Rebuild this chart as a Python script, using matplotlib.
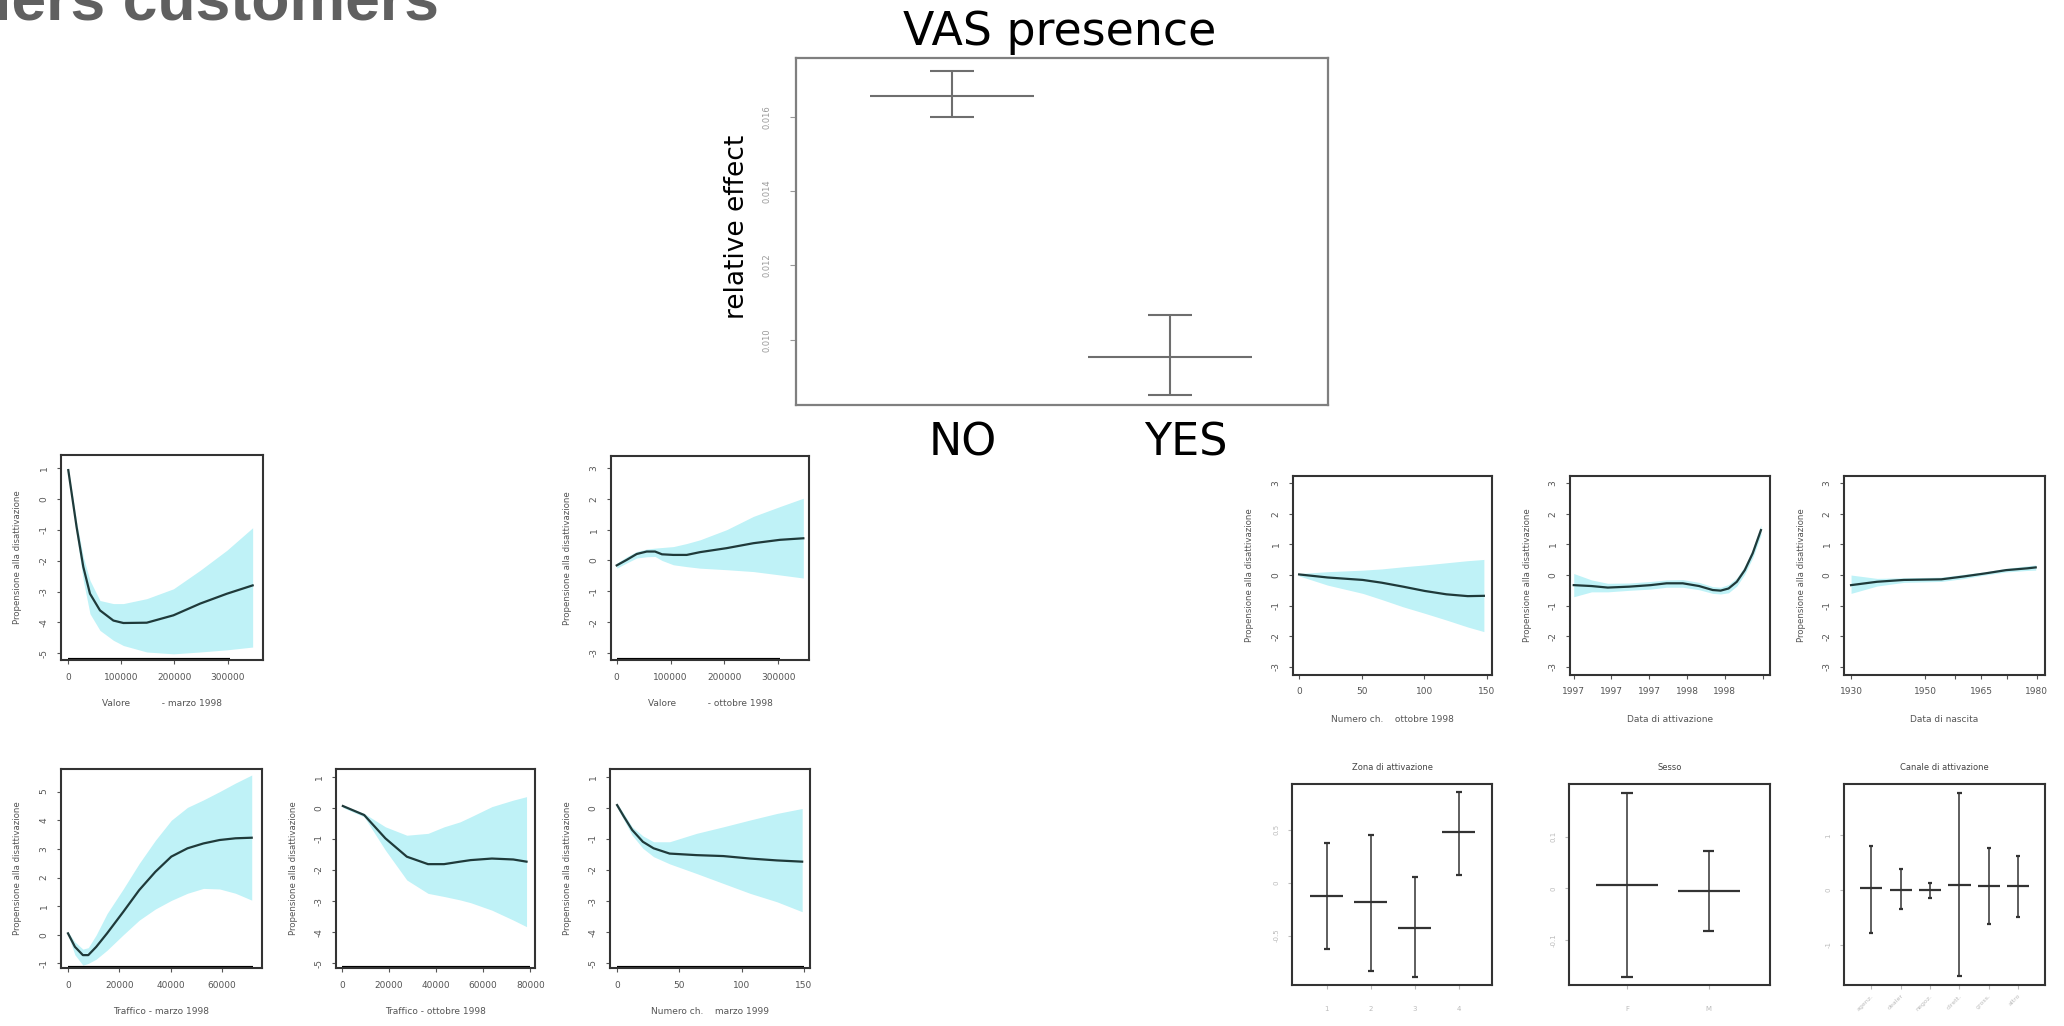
import matplotlib
matplotlib.use("Agg")
import matplotlib.pyplot as plt
import matplotlib.transforms as mtransforms

W, H = 2064, 1026

# --- VAS presence (relative effect, +/- 2 s.e.) ---
vas_levels = ["NO", "YES"]
vas_mean = [0.016565, 0.009524]
vas_lo = [0.016000, 0.008503]
vas_hi = [0.017220, 0.010672]
vas_yticks = [0.010, 0.012, 0.014, 0.016]

# --- smooth terms (fit, lower band, upper band) ---
valmar_x = [0, 15700, 28300, 40900, 59700, 84900, 103800, 147800, 198100, 248400, 298700, 347200]
valmar_fit = [0.94, -0.91, -2.20, -3.07, -3.61, -3.94, -4.02, -4.01, -3.77, -3.39, -3.07, -2.80]
valmar_hi = [0.99, -0.74, -1.88, -2.64, -3.29, -3.39, -3.39, -3.23, -2.91, -2.31, -1.66, -0.93]
valmar_lo = [0.88, -1.18, -2.64, -3.72, -4.26, -4.58, -4.75, -4.96, -5.02, -4.96, -4.89, -4.80]

valott_x = [0, 18600, 37100, 55700, 71100, 84000, 105100, 129900, 154600, 204100, 253600, 303000, 346300]
valott_fit = [-0.16, 0.02, 0.21, 0.29, 0.29, 0.20, 0.18, 0.18, 0.27, 0.40, 0.56, 0.67, 0.72]
valott_hi = [-0.09, 0.12, 0.29, 0.37, 0.40, 0.42, 0.45, 0.55, 0.67, 1.00, 1.43, 1.75, 2.02]
valott_lo = [-0.25, -0.08, 0.08, 0.12, 0.13, 0.00, -0.14, -0.20, -0.25, -0.30, -0.36, -0.47, -0.57]

trafmar_x = [0, 2700, 5800, 7900, 11000, 15200, 21500, 27700, 34000, 40200, 46500, 52700, 59000, 65200, 71500]
trafmar_fit = [0.05, -0.42, -0.71, -0.71, -0.42, 0.05, 0.80, 1.56, 2.20, 2.73, 3.02, 3.19, 3.31, 3.37, 3.39]
trafmar_hi = [0.10, -0.25, -0.50, -0.45, 0.00, 0.74, 1.60, 2.49, 3.30, 4.00, 4.45, 4.71, 5.00, 5.30, 5.58]
trafmar_lo = [0.00, -0.70, -1.06, -1.00, -0.85, -0.54, 0.00, 0.51, 0.90, 1.20, 1.45, 1.62, 1.60, 1.45, 1.21]

trafott_x = [450, 9500, 18500, 27600, 36600, 43400, 50200, 54700, 63700, 72800, 78400]
trafott_fit = [0.06, -0.23, -0.98, -1.57, -1.81, -1.81, -1.73, -1.68, -1.63, -1.66, -1.73]
trafott_hi = [0.09, -0.18, -0.61, -0.88, -0.82, -0.61, -0.45, -0.29, 0.04, 0.25, 0.36]
trafott_lo = [0.01, -0.29, -1.36, -2.32, -2.75, -2.85, -2.96, -3.05, -3.29, -3.61, -3.82]

nummar_x = [0, 5.6, 12.1, 20.7, 29.3, 42.2, 63.8, 85.3, 106.9, 128.4, 148.7]
nummar_fit = [0.09, -0.29, -0.71, -1.09, -1.30, -1.47, -1.52, -1.55, -1.63, -1.69, -1.73]
nummar_hi = [0.14, -0.20, -0.61, -0.90, -1.09, -1.09, -0.82, -0.61, -0.39, -0.18, -0.02]
nummar_lo = [0.01, -0.40, -0.88, -1.30, -1.57, -1.80, -2.11, -2.43, -2.75, -3.02, -3.34]

numott_x = [0, 22.8, 50.9, 66, 83.2, 100.4, 117.7, 134.9, 147.8]
numott_fit = [0.02, -0.08, -0.16, -0.25, -0.38, -0.52, -0.63, -0.69, -0.68]
numott_hi = [0.05, 0.11, 0.16, 0.20, 0.27, 0.33, 0.40, 0.47, 0.51]
numott_lo = [-0.03, -0.33, -0.60, -0.80, -1.04, -1.25, -1.47, -1.70, -1.85]

attiv_x = [1997.0, 1997.157, 1997.30, 1997.49, 1997.68, 1997.82, 1997.963, 1998.107,
           1998.227, 1998.297, 1998.367, 1998.44, 1998.51, 1998.58, 1998.653]
attiv_fit = [-0.33, -0.36, -0.41, -0.38, -0.33, -0.27, -0.27, -0.36, -0.49, -0.51, -0.44, -0.22, 0.16, 0.71, 1.47]
attiv_hi = [0.05, -0.16, -0.27, -0.26, -0.21, -0.16, -0.15, -0.24, -0.38, -0.40, -0.31, -0.09, 0.29, 0.86, 1.63]
attiv_lo = [-0.71, -0.55, -0.55, -0.50, -0.46, -0.40, -0.40, -0.48, -0.60, -0.62, -0.58, -0.36, 0.03, 0.56, 1.31]

nasc_x = [1930, 1937, 1944.2, 1954.3, 1960.1, 1965.9, 1971.7, 1977.5, 1979.7]
nasc_fit = [-0.33, -0.22, -0.16, -0.14, -0.05, 0.05, 0.16, 0.22, 0.25]
nasc_hi = [0.00, -0.11, -0.09, -0.07, 0.02, 0.10, 0.22, 0.30, 0.33]
nasc_lo = [-0.60, -0.36, -0.24, -0.21, -0.12, 0.00, 0.10, 0.15, 0.16]

# --- factor terms ---
zona_levels = ["1", "2", "3", "4"]
zona_mean = [-0.125, -0.179, -0.43, 0.475]
zona_lo = [-0.628, -0.83, -0.887, 0.073]
zona_hi = [0.377, 0.45, 0.05, 0.85]

sesso_levels = ["F", "M"]
sesso_mean = [0.006, -0.005]
sesso_lo = [-0.171, -0.083]
sesso_hi = [0.185, 0.073]

canale_levels = ["agenz.", "dealer", "negoz.", "dirett.", "gross.", "altro"]
canale_mean = [0.04, 0.0, 0.0, 0.09, 0.08, 0.08]
canale_lo = [-0.79, -0.35, -0.15, -1.58, -0.62, -0.49]
canale_hi = [0.81, 0.38, 0.13, 1.78, 0.76, 0.62]

BAND = "#bff2f7"
LINE = "#1f3a3a"
YLAB = "Propensione alla disattivazione"

fig = plt.figure(figsize=(W / 100, H / 100), dpi=100)
fig.patch.set_facecolor("white")


def px_axes(x0, y0, x1, y1):
    return fig.add_axes([x0 / W, 1 - y1 / H, (x1 - x0) / W, (y1 - y0) / H])


def shifted(ax, dx, dy):
    return ax.transAxes + mtransforms.ScaledTranslation(dx / 100, dy / 100, fig.dpi_scale_trans)


def small_style(ax):
    for s in ax.spines.values():
        s.set_linewidth(1.5)
        s.set_color("#333333")
    ax.tick_params(labelsize=6.5, length=3, width=0.8, colors="#555555", pad=6)
    ax.tick_params(axis="y", labelrotation=90)
    for t in ax.get_yticklabels():
        t.set_va("center")


def smooth_panel(box, x, fit, lo, hi, xlim, ylim, xticks, xticklabels, yticks, xlabel, rug=None):
    ax = px_axes(*box)
    ax.fill_between(x, lo, hi, color=BAND, lw=0)
    ax.plot(x, fit, color=LINE, lw=1.6)
    if rug is not None:
        ax.plot(rug, [ylim[0], ylim[0]], color="black", lw=3, solid_capstyle="butt")
    ax.set_xlim(*xlim)
    ax.set_ylim(*ylim)
    ax.set_xticks(xticks)
    ax.set_xticklabels(xticklabels)
    ax.set_yticks(yticks)
    ax.set_yticklabels([("%g" % v) for v in yticks])
    small_style(ax)
    ax.text(0.5, 0, xlabel, transform=shifted(ax, 0, -44), ha="center", va="center",
            fontsize=6.5, color="#555555")
    ax.text(0, 0.5, YLAB, transform=shifted(ax, -43, 0), ha="center", va="center",
            rotation=90, fontsize=6.2, color="#555555")
    return ax


def factor_panel(box, levels, mean, lo, hi, xlim, ylim, yticks, title, rot=0):
    ax = px_axes(*box)
    pos = list(range(1, len(levels) + 1))
    ax.vlines(pos, lo, hi, color="#333333", lw=1.1)
    ax.hlines(mean, [p - 0.38 for p in pos], [p + 0.38 for p in pos], color="#333333", lw=1.6)
    ax.hlines(lo, [p - 0.07 for p in pos], [p + 0.07 for p in pos], color="#333333", lw=1.6)
    ax.hlines(hi, [p - 0.07 for p in pos], [p + 0.07 for p in pos], color="#333333", lw=1.6)
    ax.set_xlim(*xlim)
    ax.set_ylim(*ylim)
    ax.set_xticks(pos)
    ax.set_yticks(yticks)
    ax.set_yticklabels([("%g" % v) for v in yticks])
    small_style(ax)
    ax.tick_params(colors="#bbbbbb", labelsize=5)
    if rot:
        ax.set_xticklabels(levels, rotation=rot, ha="right", rotation_mode="anchor", fontsize=4.5)
        ax.tick_params(axis="x", pad=3)
    else:
        ax.set_xticklabels(levels)
        ax.tick_params(axis="x", pad=12)
    ax.set_title(title, fontsize=6, color="#444444", pad=10)
    return ax


# page heading (cut at top-left)
fig.text(-6 / W, 1 - 19 / H, "lers customers", fontsize=45, fontweight="bold",
         family=["Liberation Sans", "DejaVu Sans"], color="#606060", va="baseline", ha="left")

# VAS presence
ax = px_axes(796, 58, 1328, 405)
vpos = [1, 2]
ax.vlines(vpos, vas_lo, vas_hi, color="#6e6e6e", lw=1.5)
ax.hlines(vas_mean, [p - 0.378 for p in vpos], [p + 0.378 for p in vpos], color="#6e6e6e", lw=1.5)
ax.hlines(vas_lo, [p - 0.1 for p in vpos], [p + 0.1 for p in vpos], color="#6e6e6e", lw=1.5)
ax.hlines(vas_hi, [p - 0.1 for p in vpos], [p + 0.1 for p in vpos], color="#6e6e6e", lw=1.5)
ax.set_xlim(0.284, 2.725)
ax.set_ylim(0.008245, 0.017578)
ax.set_xticks([])
ax.set_yticks(vas_yticks)
ax.set_yticklabels(["%.3f" % v for v in vas_yticks], rotation=90, va="center")
ax.tick_params(axis="y", labelsize=6, length=4, colors="#999999", pad=14)
for s in ax.spines.values():
    s.set_linewidth(1.6)
    s.set_color("#7f7f7f")
fig.text(1060 / W, 1 - 45 / H, "VAS presence", fontsize=33, ha="center", va="baseline")
fig.text(737 / W, 1 - 227 / H, "relative effect", fontsize=19, rotation=90, ha="center", va="center")
for lab, xc in zip(vas_levels, [963, 1186]):
    fig.text(xc / W, 1 - 455 / H, lab, fontsize=32, ha="center", va="baseline")

# left block of smooth terms
smooth_panel((61, 455, 263, 660), valmar_x, valmar_fit, valmar_lo, valmar_hi,
             (-13700, 366700), (-5.22, 1.43), [0, 100000, 200000, 300000],
             ["0", "100000", "200000", "300000"], [1, 0, -1, -2, -3, -4, -5],
             "Valore           - marzo 1998", rug=[0, 305000])
smooth_panel((611, 456, 809, 660), valott_x, valott_fit, valott_lo, valott_hi,
             (-10600, 356800), (-3.23, 3.39), [0, 100000, 200000, 300000],
             ["0", "100000", "200000", "300000"], [3, 2, 1, 0, -1, -2, -3],
             "Valore           - ottobre 1998", rug=[0, 303000])
smooth_panel((61, 769, 262, 968), trafmar_x, trafmar_fit, trafmar_lo, trafmar_hi,
             (-2720, 75500), (-1.16, 5.79), [0, 20000, 40000, 60000],
             ["0", "20000", "40000", "60000"], [5, 4, 3, 2, 1, 0, -1],
             "Traffico - marzo 1998", rug=[0, 72000])
smooth_panel((336, 769, 535, 968), trafott_x, trafott_fit, trafott_lo, trafott_hi,
             (-2460, 82000), (-5.15, 1.25), [0, 20000, 40000, 60000, 80000],
             ["0", "20000", "40000", "60000", "80000"], [1, 0, -1, -2, -3, -4, -5],
             "Traffico - ottobre 1998", rug=[0, 80000])
smooth_panel((610, 769, 810, 968), nummar_x, nummar_fit, nummar_lo, nummar_hi,
             (-5.7, 155), (-5.15, 1.25), [0, 50, 100, 150],
             ["0", "50", "100", "150"], [1, 0, -1, -2, -3, -4, -5],
             "Numero ch.    marzo 1999", rug=[0, 150])

# right block
smooth_panel((1293, 476, 1492, 675), numott_x, numott_fit, numott_lo, numott_hi,
             (-4.9, 154.3), (-3.27, 3.24), [0, 50, 100, 150],
             ["0", "50", "100", "150"], [3, 2, 1, 0, -1, -2, -3],
             "Numero ch.    ottobre 1998")
smooth_panel((1570, 476, 1770, 675), attiv_x, attiv_fit, attiv_lo, attiv_hi,
             (1996.967, 1998.733), (-3.27, 3.24),
             [1997.0, 1997.333, 1997.667, 1998.0, 1998.333, 1998.667],
             ["1997", "1997", "1997", "1998", "1998", ""], [3, 2, 1, 0, -1, -2, -3],
             "Data di attivazione")
smooth_panel((1844, 476, 2045, 675), nasc_x, nasc_fit, nasc_lo, nasc_hi,
             (1928.1, 1982.2), (-3.27, 3.24), [1930, 1950, 1958, 1965, 1972, 1980],
             ["1930", "1950", "", "1965", "", "1980"], [3, 2, 1, 0, -1, -2, -3],
             "Data di nascita")

factor_panel((1292, 784, 1492, 985), zona_levels, zona_mean, zona_lo, zona_hi,
             (0.21, 4.76), (-0.965, 0.93), [0.5, 0.0, -0.5], "Zona di attivazione")
factor_panel((1569, 784, 1770, 985), sesso_levels, sesso_mean, sesso_lo, sesso_hi,
             (0.29, 2.75), (-0.187, 0.2017), [0.1, 0.0, -0.1], "Sesso")
factor_panel((1844, 784, 2045, 985), canale_levels, canale_mean, canale_lo, canale_hi,
             (0.07, 6.91), (-1.74, 1.94), [1, 0, -1], "Canale di attivazione", rot=45)

fig.savefig("out.png", dpi=100, facecolor="white")
